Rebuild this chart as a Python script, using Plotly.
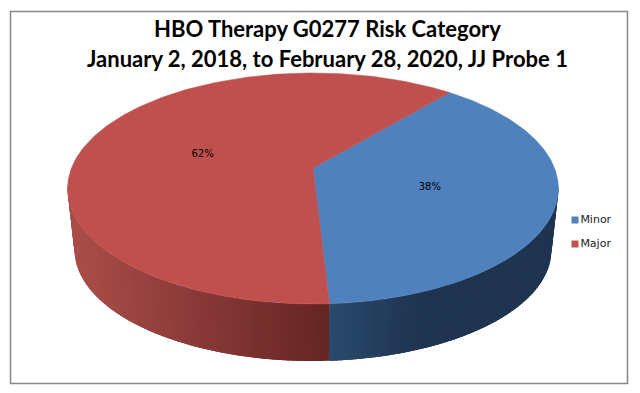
import numpy as np
import plotly.graph_objects as go

categories = ["Minor", "Major"]
values = [38, 62]
colors = ["#4F81BD", "#C0504D"]
title_lines = ["HBO Therapy G0277 Risk Category",
               "January 2, 2018, to February 28, 2020, JJ Probe 1"]

# chart view constants
FIRST_ANGLE = 40.0
W, H = 640, 393
CX, APEX_Y, K, A, C = 313.0, 168.0, 241.5, -82.04, 0.1775
TOP_RX, TOP_CY, TOP_RY = 245.0, 188.5, 115.5
BOT_RX, BOT_CY, BOT_RY = 238.0, 250.0, 111.0
LABEL_SHIFT = [(-1, 1), (1, 4)]
KEY_X, KEY_Y, KEY_STEP = 575, 220, 24


def project(theta_deg, r=1.0):
    t = np.radians(theta_deg)
    u, v = r * np.sin(t), r * np.cos(t)
    d = C * v + 1
    return CX + K * u / d, (A * v + APEX_Y) / d


def lower(x, y):
    return CX + (x - CX) * BOT_RX / TOP_RX, BOT_CY + (y - TOP_CY) * BOT_RY / TOP_RY


def mix(c1, c2, f):
    f = min(max(f, 0), 1)
    return "rgb(%d,%d,%d)" % tuple(round(a + (b - a) * f) for a, b in zip(c1, c2))


def wall_color(i, x):
    if i == 0:
        return mix((42, 75, 110), (31, 52, 80), (x - 329) / 95)
    return mix((101, 37, 36), (170, 77, 73), (329 - x) / 254)


total = sum(values)
bounds = [FIRST_ANGLE]
for v in values:
    bounds.append(bounds[-1] + 360 * v / total)

fig = go.Figure()

# side wall strips: each one overlaps the next so that no seams show
for i in range(len(values)):
    th = np.arange(bounds[i], bounds[i + 1], 1.0)
    for a in th:
        b = min(a + 2.5, bounds[i + 1])
        arc = np.linspace(a, b, 5)
        xa, ya = project(arc)
        if ya.max() < TOP_CY - 1:
            continue
        xb, yb = lower(xa, ya)
        col = wall_color(i, float(xa[0]))
        fig.add_trace(go.Scatter(
            x=np.r_[xa, xb[::-1], xa[0]], y=np.r_[ya, yb[::-1], ya[0]],
            mode="lines", fill="toself", fillcolor=col,
            line=dict(color=col, width=0),
            hoverinfo="skip", showlegend=False))

# top faces
for i in range(len(values)):
    th = np.linspace(bounds[i], bounds[i + 1], 200)
    xs, ys = project(th)
    fig.add_trace(go.Scatter(
        x=np.r_[CX, xs, CX], y=np.r_[APEX_Y, ys, APEX_Y],
        mode="lines", fill="toself", fillcolor=colors[i],
        line=dict(color=colors[i], width=0.5),
        hoverinfo="skip", showlegend=False))

# percentage labels
for i, v in enumerate(values):
    lx, ly = project((bounds[i] + bounds[i + 1]) / 2, 0.5)
    fig.add_trace(go.Scatter(
        x=[lx + LABEL_SHIFT[i][0]], y=[ly + LABEL_SHIFT[i][1]], mode="text",
        text=[f"{round(100 * v / total)}%"],
        textposition="middle center",
        textfont=dict(family="DejaVu Sans", size=10, color="#000000"),
        hoverinfo="skip", showlegend=False))

# legend key: a square and a name for each category
for i, (name, col) in enumerate(zip(categories, colors)):
    fig.add_trace(go.Scatter(
        x=[KEY_X], y=[KEY_Y + i * KEY_STEP], mode="markers+text", name=name,
        text=[name], textposition="middle right",
        textfont=dict(family="DejaVu Sans", size=11, color="#222222"),
        marker=dict(symbol="square", size=7, color=col),
        hoverinfo="skip", showlegend=False))

fig.update_layout(
    width=W, height=H, margin=dict(l=0, r=0, t=0, b=0),
    paper_bgcolor="white", plot_bgcolor="white",
    xaxis=dict(range=[0, W], visible=False, fixedrange=True),
    yaxis=dict(range=[H, 0], visible=False, fixedrange=True),
    shapes=[dict(type="rect", xref="x", yref="y", x0=10.5, x1=627.5, y0=11.5, y1=383.5,
                 line=dict(color="#868686", width=1.5), layer="below")],
    annotations=[
        dict(text=f"<b>{line}</b>", x=327, y=y, xref="x", yref="y", showarrow=False,
             font=dict(family="Lato", size=22, color="#000000"))
        for line, y in zip(title_lines, [28, 58])
    ],
)

fig.write_html("out.html", config={"displayModeBar": False},
               post_script="document.body.style.margin='0';document.body.style.overflow='hidden';")
